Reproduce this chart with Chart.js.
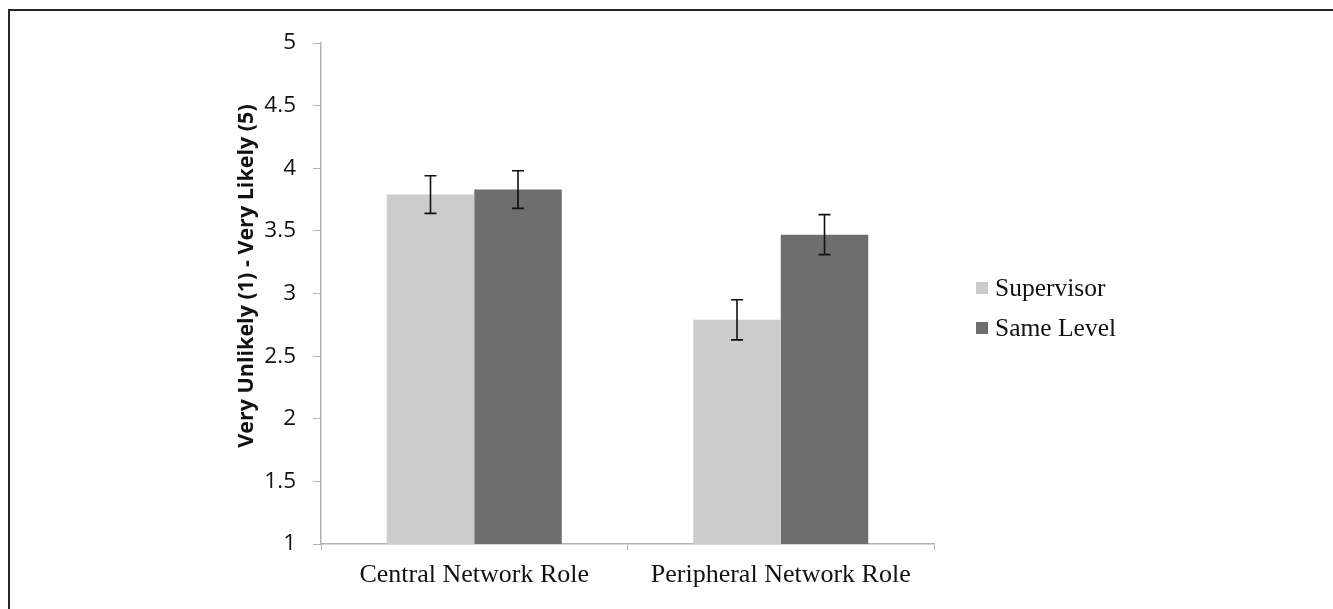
<!DOCTYPE html>
<html>
<head>
<meta charset="utf-8">
<script src="https://cdn.jsdelivr.net/npm/chart.js@4.4.1/dist/chart.umd.min.js"></script>
<style>
  body { margin: 0; background: #fff; }
  #wrap { width: 1333px; height: 609px; position: relative; }
</style>
</head>
<body>
<div id="wrap"><canvas id="chart" width="1333" height="609"></canvas></div>
<script>
const categories = ['Central Network Role', 'Peripheral Network Role'];
const seriesNames = ['Supervisor', 'Same Level'];
const supervisorValues = [3.79, 2.79];
const sameLevelValues = [3.83, 3.47];
const supervisorErrLow = [3.64, 2.63];
const supervisorErrHigh = [3.94, 2.95];
const sameLevelErrLow = [3.68, 3.31];
const sameLevelErrHigh = [3.98, 3.63];
const yTickLabels = ['1', '1.5', '2', '2.5', '3', '3.5', '4', '4.5', '5'];
const yTitle = 'Very Unlikely (1) - Very Likely (5)';

const axisGray = '#b3b3b3';

// frame lines along top and left edge of the picture
const framePlugin = {
  id: 'frame',
  beforeDraw(chart) {
    const c = chart.ctx;
    c.save();
    c.strokeStyle = '#262626';
    c.lineWidth = 2;
    c.beginPath();
    c.moveTo(1333, 10);
    c.lineTo(9, 10);
    c.lineTo(9, 609);
    c.stroke();
    c.restore();
  }
};

// error bars with caps
const errorBarPlugin = {
  id: 'errorBars',
  afterDatasetsDraw(chart) {
    const c = chart.ctx;
    const y = chart.scales.y;
    c.save();
    c.strokeStyle = '#111';
    c.lineWidth = 1.6;
    chart.data.datasets.forEach((ds, i) => {
      const meta = chart.getDatasetMeta(i);
      meta.data.forEach((bar, j) => {
        const top = y.getPixelForValue(ds.errHigh[j]);
        const bot = y.getPixelForValue(ds.errLow[j]);
        c.beginPath();
        c.moveTo(bar.x, top); c.lineTo(bar.x, bot);
        c.moveTo(bar.x - 6, top); c.lineTo(bar.x + 6, top);
        c.moveTo(bar.x - 6, bot); c.lineTo(bar.x + 6, bot);
        c.stroke();
      });
    });
    c.restore();
  }
};

// legend at the right side, and the rotated y title
const legendPlugin = {
  id: 'sideLegend',
  afterDraw(chart) {
    const c = chart.ctx;
    c.save();
    c.font = '25.5px "Liberation Serif", "Times New Roman", serif';
    c.textBaseline = 'middle';
    chart.data.datasets.forEach((ds, i) => {
      const cy = 288 + i * 40;
      c.fillStyle = ds.backgroundColor;
      c.fillRect(976, cy - 6, 12, 12);
      c.fillStyle = '#111';
      c.fillText(ds.label, 995, cy + 1);
    });
    c.translate(247, 276);
    c.rotate(-Math.PI / 2);
    c.textAlign = 'center';
    c.font = 'bold 21.5px "Open Sans", sans-serif';
    c.fillText(yTitle, 0, 0);
    c.restore();
  }
};

new Chart(document.getElementById('chart'), {
  type: 'bar',
  data: {
    labels: categories,
    datasets: [
      {
        label: seriesNames[0],
        data: supervisorValues,
        errLow: supervisorErrLow,
        errHigh: supervisorErrHigh,
        backgroundColor: '#cccccc',
        categoryPercentage: 0.571,
        barPercentage: 1
      },
      {
        label: seriesNames[1],
        data: sameLevelValues,
        errLow: sameLevelErrLow,
        errHigh: sameLevelErrHigh,
        backgroundColor: '#6e6e6e',
        categoryPercentage: 0.571,
        barPercentage: 1
      }
    ]
  },
  options: {
    responsive: false,
    animation: false,
    layout: { padding: { left: 236, right: 399, top: 43, bottom: 0 } },
    plugins: {
      legend: { display: false },
      tooltip: { enabled: false }
    },
    scales: {
      x: {
        grid: {
          drawOnChartArea: false,
          color: axisGray,
          tickLength: 6,
          offset: true
        },
        border: { color: axisGray, width: 1.5 },
        ticks: {
          color: '#111',
          padding: 10,
          font: { family: '"Liberation Serif", "Times New Roman", serif', size: 26 }
        },
        afterFit(scale) { scale.height = 65; }
      },
      y: {
        min: 1,
        max: 5,
        grid: {
          drawOnChartArea: false,
          color: axisGray,
          tickLength: 8
        },
        border: { color: axisGray, width: 1.5 },
        ticks: {
          stepSize: 0.5,
          color: '#111',
          padding: 17,
          font: { family: '"Open Sans", sans-serif', size: 22.5 },
          callback: (v, i) => yTickLabels[i]
        },
        afterFit(scale) { scale.width = 85; }
      }
    }
  },
  plugins: [framePlugin, errorBarPlugin, legendPlugin]
});
</script>
</body>
</html>
